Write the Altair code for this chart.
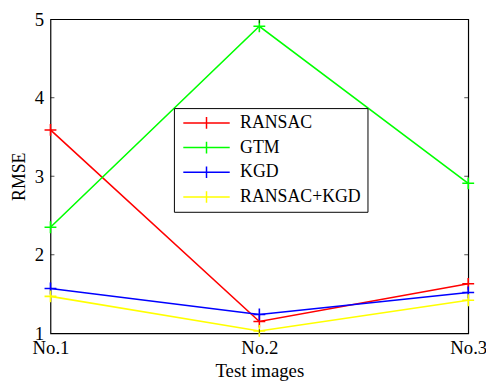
import altair as alt
import pandas as pd

images = ["No.1", "No.2", "No.3"]
series = ["RANSAC", "GTM", "KGD", "RANSAC+KGD"]
ransac = [3.59, 1.15, 1.63]
gtm = [2.35, 4.91, 2.91]
kgd = [1.57, 1.24, 1.52]
ransac_kgd = [1.47, 1.03, 1.42]
colors = ["#ff0000", "#00ff00", "#0000ff", "#ffff00"]
y_ticks = [1, 2, 3, 4, 5]
inner_y_ticks = [2, 3, 4]

rows = []
for name, vals in zip(series, [ransac, gtm, kgd, ransac_kgd]):
    for img, v in zip(images, vals):
        rows.append({"image": img, "series": name, "rmse": v, "order": series.index(name)})
df = pd.DataFrame(rows)

W, H = 423, 318
FONT = "Liberation Serif"
FS = 18
AFS = 19
plus = "M-1,0L1,0M0,-1L0,1"

x_enc = alt.X("image:N", sort=images, scale=alt.Scale(type="point", padding=0),
              axis=alt.Axis(title="Test images", labelAngle=0, ticks=False, domain=False,
                            labelOverlap=False, labelPadding=5, titlePadding=5,
                            labelFont=FONT, labelFontSize=AFS, titleFont=FONT,
                            titleFontSize=AFS, titleFontWeight="normal",
                            labelColor="black", titleColor="black", grid=False))
y_enc = alt.Y("rmse:Q", scale=alt.Scale(domain=[1, 5], nice=False, zero=False),
              axis=alt.Axis(title="RMSE", values=y_ticks, format="d", ticks=False, domain=False,
                            labelPadding=7, titlePadding=6, labelFont=FONT,
                            labelFontSize=AFS, titleFont=FONT, titleFontSize=FS,
                            titleFontWeight="normal", labelColor="black",
                            titleColor="black", grid=False))
color_enc = alt.Color("series:N", sort=series,
                      scale=alt.Scale(domain=series, range=colors),
                      legend=alt.Legend(title=None, orient="none", legendX=125, legendY=90,
                                        fillColor="white", strokeColor="black",
                                        padding=6, rowPadding=7,
                                        symbolType="M-4,0L4,0M0,-1L0,1",
                                        symbolSize=138, symbolStrokeWidth=1.5,
                                        symbolOffset=18,
                                        labelFont=FONT, labelFontSize=FS, labelColor="black",
                                        labelOffset=25, cornerRadius=0))

base = alt.Chart(df)
lines = base.mark_line(strokeWidth=1.6).encode(x=x_enc, y=y_enc, color=color_enc,
                                               order=alt.Order("order:Q"))
points = base.mark_point(shape=plus, size=144, filled=False, strokeWidth=1.6, opacity=1).encode(
    x=alt.X("image:N", sort=images), y="rmse:Q",
    color=alt.Color("series:N", sort=series, legend=None))

tick_df = pd.DataFrame({"v": inner_y_ticks})
lt = alt.Chart(tick_df).mark_tick(orient="horizontal", size=4, color="black", thickness=1).encode(
    y="v:Q", x=alt.value(2))
rt = alt.Chart(tick_df).mark_tick(orient="horizontal", size=4, color="black", thickness=1).encode(
    y="v:Q", x=alt.value(W - 2))
xt_df = pd.DataFrame({"image": [images[1]]})
bt = alt.Chart(xt_df).mark_tick(orient="vertical", size=4, color="black", thickness=1).encode(
    x=alt.X("image:N", sort=images), y=alt.value(H - 2))
tt = alt.Chart(xt_df).mark_tick(orient="vertical", size=4, color="black", thickness=1).encode(
    x=alt.X("image:N", sort=images), y=alt.value(2))

chart = alt.layer(lines, points, lt, rt, bt, tt).properties(
    width=W, height=H,
    autosize=alt.AutoSizeParams(type="none"),
    padding={"left": 43, "top": 9, "right": 18, "bottom": 48},
    background="white",
).configure(font=FONT).configure_view(stroke="black", strokeWidth=1.2)

chart.save("out.html", embed_options={"renderer": "svg", "actions": False})
